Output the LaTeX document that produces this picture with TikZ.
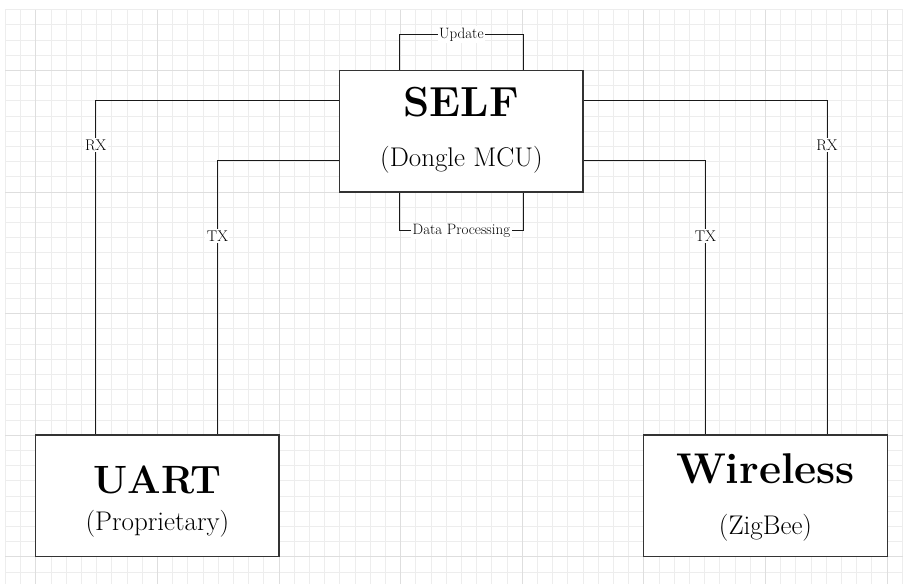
\documentclass[tikz,border=0pt]{standalone}
\usepackage{graphicx}
\begin{document}
\begin{tikzpicture}[x=1pt,y=-1pt,
  gridminor/.style={draw=black!7,line width=0.8pt},
  gridmajor/.style={draw=black!13,line width=0.8pt},
  box/.style={draw=black!80,line width=1.3pt,fill=white,minimum width=243.4pt,minimum height=121.6pt,inner sep=0pt},
  wire/.style={draw=black!90,line width=0.9pt},
  lbl/.style={fill=white,inner sep=1.5pt,font=\fontsize{15}{17}\selectfont},
  lbls/.style={fill=white,inner sep=1.5pt,font=\fontsize{15.5}{17}\selectfont},
  ttl/.style={anchor=base,inner sep=0pt,font=\fontsize{42}{48}\selectfont\bfseries},
  sub/.style={anchor=base,inner sep=0pt,font=\fontsize{27}{32}\selectfont},
  ]
\useasboundingbox (0,0) rectangle (903,584);
% background grid
\foreach \i in {0,...,59} { \draw[gridminor] ({5.3+15.2*\i},9.5) -- ({5.3+15.2*\i},584); }
\foreach \k in {0,...,37} { \draw[gridminor] (5.3,{9.5+15.2*\k}) -- (903,{9.5+15.2*\k}); }
\foreach \i in {2,10,...,58} { \draw[gridmajor] ({5.3+15.2*\i},9.5) -- ({5.3+15.2*\i},584); }
\foreach \k in {4,12,...,36} { \draw[gridmajor] (5.3,{9.5+15.2*\k}) -- (903,{9.5+15.2*\k}); }
% boxes
\node[box] (self) at (461.4,131.1) {};
\node[box] (uart) at (157.4,495.9) {};
\node[box] (wless) at (765.5,495.9) {};
% box texts
\node[ttl] (selfT) at ([yshift=14.4pt]self.center) {SELF};
\node[sub] (selfS) at ([yshift=-35pt]self.center) {(Dongle MCU)};
\node[ttl,font=\fontsize{39.5}{46}\selectfont\bfseries] (uartT) at ([yshift=2.6pt]uart.center) {UART};
\node[sub] (uartS) at ([yshift=-34.5pt]uart.center) {(Proprietary)};
\node[ttl,font=\fontsize{43}{50}\selectfont\bfseries] (wlessT) at ([yshift=12.6pt]wless.center) {Wireless};
\node[sub] (wlessS) at ([yshift=-38.5pt]wless.center) {(ZigBee)};
% connectors
\draw[wire] ([yshift=-30.4pt]self.north west) -| node[lbls,pos=0.567]{RX} ([xshift=60.8pt]uart.north west);
\draw[wire] ([yshift=-90.8pt]self.north west) -| node[lbls,pos=0.638]{TX} ([xshift=182.4pt]uart.north west);
\draw[wire] ([yshift=-30.4pt]self.north east) -| node[lbls,pos=0.567]{RX} ([xshift=-60.8pt]wless.north east);
\draw[wire] ([yshift=-90.8pt]self.north east) -| node[lbls,pos=0.638]{TX} ([xshift=-182.4pt]wless.north east);
\draw[wire] ([xshift=60.8pt]self.north west) -- ++(0,-35) -| node[lbl,pos=0.25]{Update} ([xshift=-60.8pt]self.north east);
\draw[wire] ([xshift=60.8pt]self.south west) -- ++(0,38.3) -| node[lbl,pos=0.25]{Data Processing} ([xshift=-60.8pt]self.south east);
\end{tikzpicture}
\end{document}
